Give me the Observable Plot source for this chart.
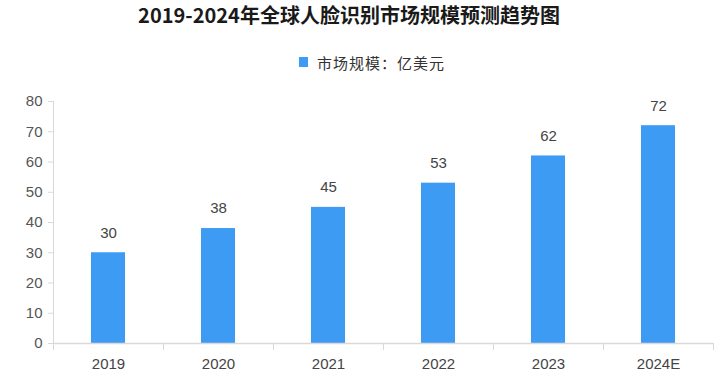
<!DOCTYPE html>
<html>
<head>
<meta charset="utf-8">
<script src="https://cdn.jsdelivr.net/npm/d3@7"></script>
<script src="https://cdn.jsdelivr.net/npm/@observablehq/plot@0.6"></script>
<style>
  body { margin: 0; background: #fff; width: 720px; }
  #title { height: 36px; line-height: 36px; text-align: center; padding-right: 22px;
           font: bold 20px "Noto Sans CJK SC", sans-serif; color: #1a1a1a; }
  #legend { height: 36px; padding-top: 8px; display: flex; align-items: center; justify-content: center;
            padding-left: 24px; font: 15px "Noto Sans CJK SC", sans-serif; color: #333; letter-spacing: 1px; }
  #legend .sw { width: 9px; height: 10px; background: #3e9bf4; margin-right: 9px; }
  #chart svg { display: block; }
</style>
</head>
<body>
<div id="title">2019-2024年全球人脸识别市场规模预测趋势图</div>
<div id="legend"><span class="sw"></span><span>市场规模：亿美元</span></div>
<div id="chart"></div>
<script>
const years = ["2019", "2020", "2021", "2022", "2023", "2024E"];
const values = [30, 38, 45, 53, 62, 72];
const yTicks = [0, 10, 20, 30, 40, 50, 60, 70, 80];

const data = years.map((y, i) => ({year: y, value: values[i]}));

const W = 720, H = 307, mL = 53, mR = 7, mT = 21, mB = 44;
const band = (W - mL - mR) / years.length;
const barW = 34;
const inset = (band - barW) / 2;
const axisColor = "#d9d9d9";

const chart = Plot.plot({
  width: W,
  height: H,
  marginLeft: mL,
  marginRight: mR,
  marginTop: mT,
  marginBottom: mB,
  style: {fontFamily: "'Liberation Sans', sans-serif", fontSize: "15px", color: "#444", background: "#fff"},
  x: {domain: years, padding: 0, label: null},
  y: {domain: [0, 80], label: null},
  marks: [
    Plot.barY(data, {x: "year", y: "value", fill: "#3e9bf4", insetLeft: inset, insetRight: inset}),
    Plot.text(data, {x: "year", y: "value", text: d => String(d.value), dy: -20, fill: "#444", fontSize: 15}),
    Plot.frame({anchor: "left", stroke: axisColor}),
    Plot.ruleY([0], {stroke: axisColor, strokeWidth: 1.5}),
    Plot.axisY({ticks: yTicks, tickSize: 5, tickPadding: 6, stroke: axisColor, fill: "#555", label: null}),
    Plot.axisX({tickSize: 0, tickPadding: 15, fill: "#444", label: null}),
    Plot.axisX({tickSize: 7, tickFormat: () => "", stroke: axisColor, dx: -band / 2, label: null}),
    Plot.axisX({ticks: [years[years.length - 1]], tickSize: 7, tickFormat: () => "", stroke: axisColor, dx: band / 2, label: null})
  ]
});
document.getElementById("chart").appendChild(chart);
</script>
</body>
</html>
